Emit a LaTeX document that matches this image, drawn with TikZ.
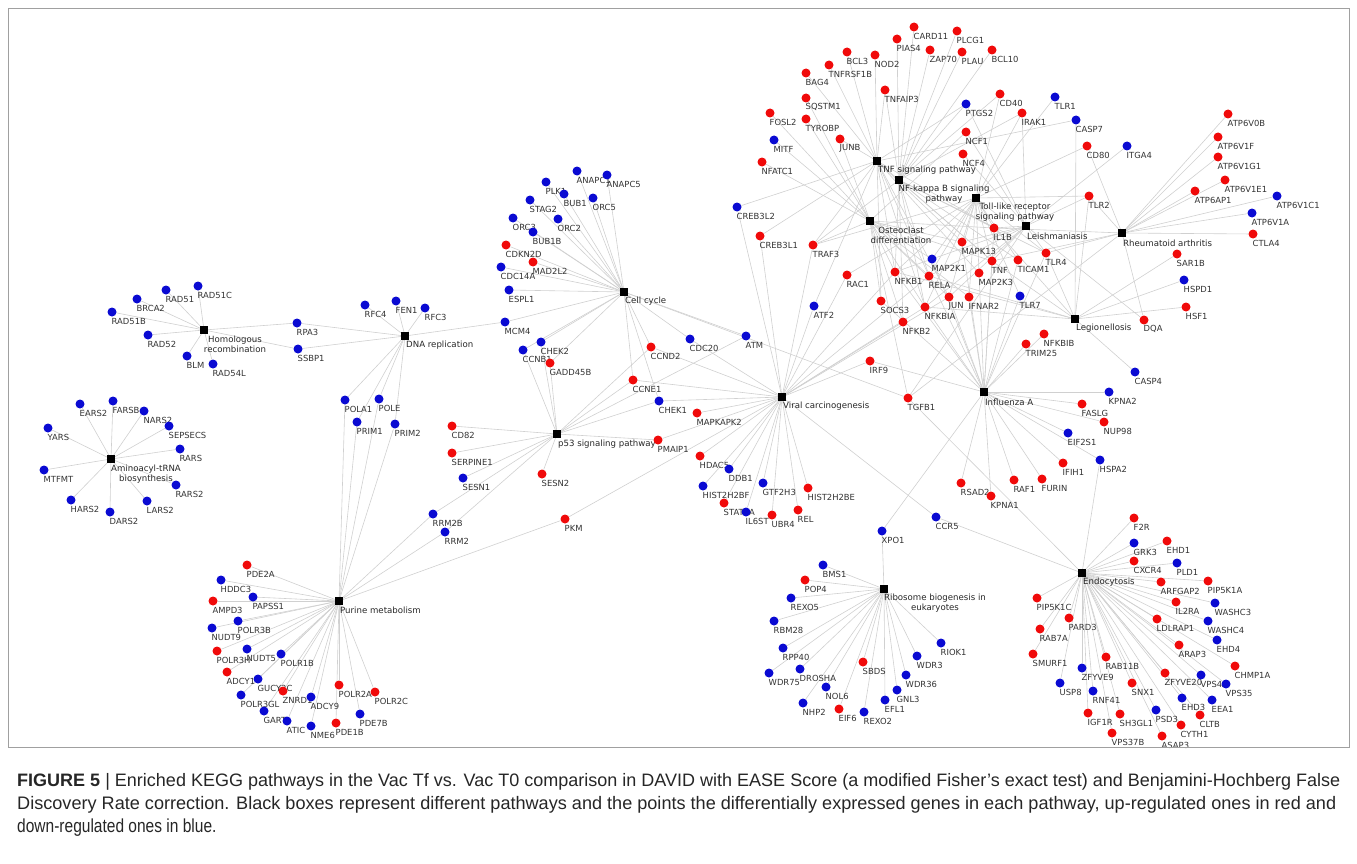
\documentclass[tikz,border=0pt]{standalone}
\usepackage{graphicx}
\usepackage{fontspec}
\setmainfont{Liberation Sans}
\newfontfamily\lab{DejaVu Sans}
\definecolor{upred}{RGB}{240,10,10}
\definecolor{downblue}{RGB}{10,10,210}
\definecolor{edgegray}{RGB}{208,208,208}
\definecolor{framegray}{RGB}{160,160,160}
\pgfdeclarelayer{edges}
\pgfdeclarelayer{labels}
\pgfsetlayers{edges,labels,main}
\tikzset{
  gdot/.style={circle, inner sep=0pt, minimum size=9pt, draw=none},
  rdot/.style={gdot, fill=upred},
  bdot/.style={gdot, fill=downblue},
  pwbox/.style={rectangle, fill=black, inner sep=0pt, minimum size=7.5pt},
  glabel/.style={font=\lab\fontsize{8.4}{10}\selectfont, text=black!80, inner sep=0pt, anchor=west},
  plabel/.style={font=\lab\fontsize{8.6}{10}\selectfont, text=black!85, inner sep=0pt, align=center},
  edge/.style={draw=edgegray, line width=0.6pt},
  capline/.style={anchor=base west, inner sep=0pt, text=black!85}
}
\newcommand\G[4]{%
  \node[#4dot] (#1) at (#2,#3) {};%
  \begin{pgfonlayer}{labels}\node[glabel] at ({#2-0.5},{#3+9}) {#1};\end{pgfonlayer}}
\newcommand\PW[3]{\node[pwbox] (#1) at (#2,#3) {};}
\newcommand\E[2]{\begin{pgfonlayer}{edges}\foreach \g in {#2} {\draw[edge] (#1) -- (\g);}\end{pgfonlayer}}
\begin{document}
\begin{tikzpicture}[x=1pt,y=-1pt]
\useasboundingbox (0,0) rectangle (1357,864);
\draw[framegray, line width=0.8pt] (8,8) rectangle (1349,747);

% ---------- pathways ----------
\PW{HR}{204}{330}
\PW{DNArep}{405}{336}
\PW{AA}{111}{459}
\PW{PUR}{339}{601}
\PW{CC}{624}{292}
\PW{P53}{557}{434}
\PW{VC}{782}{397}
\PW{TNFp}{877}{161}
\PW{NFKBp}{899}{180}
\PW{TLRp}{976}{198}
\PW{OST}{870}{221}
\PW{LEI}{1026}{226}
\PW{RA}{1122}{233}
\PW{LEG}{1075}{319}
\PW{INF}{984}{392}
\PW{ENDO}{1082}{573}
\PW{RIB}{884}{589}

\begin{pgfonlayer}{labels}
\node[plabel] at (235,344) {Homologous\\recombination};
\node[plabel] at (146,474) {Aminoacyl-tRNA\\biosynthesis};
\node[plabel,anchor=west] at (406,345) {DNA replication};
\node[plabel,anchor=west] at (625,301) {Cell cycle};
\node[plabel,anchor=west] at (558,444) {p53 signaling pathway};
\node[plabel,anchor=west] at (340,610) {Purine metabolism};
\node[plabel,anchor=west] at (783,406) {Viral carcinogenesis};
\node[plabel,anchor=west] at (878,170) {TNF signaling pathway};
\node[plabel] at (944,194) {NF-kappa B signaling\\pathway};
\node[plabel] at (1015,212) {Toll-like receptor\\signaling pathway};
\node[plabel] at (901,235) {Osteoclast\\differentiation};
\node[plabel,anchor=west] at (1027,236) {Leishmaniasis};
\node[plabel,anchor=west] at (1123,243) {Rheumatoid arthritis};
\node[plabel,anchor=west] at (1076,328) {Legionellosis};
\node[plabel,anchor=west] at (985,402) {Influenza A};
\node[plabel,anchor=west] at (1083,582) {Endocytosis};
\node[plabel] at (935,603) {Ribosome biogenesis in\\eukaryotes};
\end{pgfonlayer}

% ---------- genes ----------
% HR
\G{RAD51C}{198}{286}{b}
\G{RAD51}{166}{290}{b}
\G{BRCA2}{137}{299}{b}
\G{RAD51B}{112}{312}{b}
\G{RAD52}{148}{335}{b}
\G{BLM}{187}{356}{b}
\G{RAD54L}{213}{364}{b}
\G{RPA3}{297}{323}{b}
\G{SSBP1}{298}{349}{b}
% DNA replication
\G{RFC4}{365}{305}{b}
\G{FEN1}{396}{301}{b}
\G{RFC3}{425}{308}{b}
\G{MCM4}{505}{322}{b}
\G{POLA1}{345}{400}{b}
\G{POLE}{379}{399}{b}
\G{PRIM1}{357}{422}{b}
\G{PRIM2}{395}{424}{b}
% Aminoacyl
\G{EARS2}{80}{404}{b}
\G{FARSB}{113}{401}{b}
\G{NARS2}{144}{411}{b}
\G{SEPSECS}{169}{426}{b}
\G{YARS}{48}{428}{b}
\G{RARS}{180}{449}{b}
\G{MTFMT}{44}{470}{b}
\G{RARS2}{176}{485}{b}
\G{HARS2}{71}{500}{b}
\G{LARS2}{147}{501}{b}
\G{DARS2}{110}{512}{b}
% Purine
\G{PDE2A}{247}{565}{r}
\G{HDDC3}{221}{580}{b}
\G{PAPSS1}{253}{597}{b}
\G{AMPD3}{213}{601}{r}
\G{POLR3B}{238}{621}{b}
\G{NUDT9}{212}{628}{b}
\G{POLR3H}{217}{651}{r}
\G{NUDT5}{247}{649}{b}
\G{POLR1B}{281}{654}{b}
\G{ADCY1}{227}{672}{r}
\G{GUCY2C}{258}{679}{b}
\G{ZNRD1}{283}{691}{r}
\G{POLR3GL}{241}{695}{b}
\G{GART}{264}{711}{b}
\G{ATIC}{287}{721}{b}
\G{NME6}{311}{726}{b}
\G{PDE1B}{336}{723}{r}
\G{POLR2A}{339}{685}{r}
\G{POLR2C}{375}{692}{r}
\G{ADCY9}{311}{697}{b}
\G{PDE7B}{360}{714}{b}
\G{RRM2B}{433}{514}{b}
\G{RRM2}{445}{532}{b}
\G{PKM}{565}{519}{r}
% Cell cycle
\G{ANAPC1}{577}{171}{b}
\G{ANAPC5}{607}{175}{b}
\G{PLK1}{546}{182}{b}
\G{BUB1}{564}{194}{b}
\G{ORC5}{593}{198}{b}
\G{STAG2}{530}{200}{b}
\G{ORC3}{513}{218}{b}
\G{ORC2}{558}{219}{b}
\G{BUB1B}{533}{232}{b}
\G{CDKN2D}{506}{245}{r}
\G{MAD2L2}{533}{262}{r}
\G{CDC14A}{501}{267}{b}
\G{ESPL1}{509}{290}{b}
\G{CHEK2}{541}{342}{b}
\G{CCNB1}{523}{350}{b}
\G{GADD45B}{550}{363}{r}
\G{CCND2}{651}{347}{r}
\G{CCNE1}{633}{380}{r}
\G{CHEK1}{659}{401}{b}
\G{CDC20}{690}{339}{b}
\G{ATM}{746}{336}{b}
% p53
\G{CD82}{452}{426}{r}
\G{SERPINE1}{452}{453}{r}
\G{SESN1}{463}{478}{b}
\G{PMAIP1}{658}{440}{r}
\G{SESN2}{542}{474}{r}
% Viral carcinogenesis
\G{MAPKAPK2}{697}{413}{r}
\G{HDAC5}{700}{456}{r}
\G{DDB1}{729}{469}{b}
\G{HIST2H2BF}{703}{486}{b}
\G{GTF2H3}{763}{483}{b}
\G{HIST2H2BE}{808}{488}{r}
\G{STAT5A}{724}{503}{r}
\G{IL6ST}{746}{512}{b}
\G{UBR4}{772}{515}{r}
\G{REL}{798}{510}{r}
\G{IRF9}{870}{361}{r}
\G{TGFB1}{908}{398}{r}
\G{ATF2}{814}{306}{b}
\G{RAC1}{847}{275}{r}
\G{CREB3L2}{737}{207}{b}
\G{CREB3L1}{760}{236}{r}
\G{TRAF3}{813}{245}{r}
% upper cluster
\G{CARD11}{914}{27}{r}
\G{PLCG1}{957}{31}{r}
\G{PIAS4}{897}{39}{r}
\G{ZAP70}{930}{50}{r}
\G{PLAU}{962}{52}{r}
\G{BCL10}{992}{50}{r}
\G{BCL3}{847}{52}{r}
\G{NOD2}{875}{55}{r}
\G{TNFRSF1B}{829}{65}{r}
\G{BAG4}{806}{73}{r}
\G{TNFAIP3}{885}{90}{r}
\G{SQSTM1}{806}{98}{r}
\G{FOSL2}{770}{113}{r}
\G{TYROBP}{806}{119}{r}
\G{PTGS2}{966}{104}{b}
\G{CD40}{1000}{94}{r}
\G{NCF1}{966}{132}{r}
\G{MITF}{774}{140}{b}
\G{JUNB}{840}{139}{r}
\G{NCF4}{963}{154}{r}
\G{NFATC1}{762}{162}{r}
\G{IL1B}{994}{228}{r}
\G{MAPK13}{962}{242}{r}
\G{MAP2K1}{932}{259}{b}
\G{TNF}{992}{261}{r}
\G{MAP2K3}{979}{273}{r}
\G{NFKB1}{895}{272}{r}
\G{RELA}{929}{276}{r}
\G{JUN}{949}{297}{r}
\G{IFNAR2}{969}{297}{r}
\G{SOCS3}{881}{301}{r}
\G{NFKBIA}{925}{307}{r}
\G{NFKB2}{903}{322}{r}
\G{TLR1}{1055}{97}{b}
\G{IRAK1}{1022}{113}{r}
\G{CASP7}{1076}{120}{b}
\G{CD80}{1087}{146}{r}
\G{ITGA4}{1127}{146}{b}
\G{TLR2}{1089}{196}{r}
\G{TLR4}{1046}{253}{r}
\G{TICAM1}{1018}{260}{r}
\G{TLR7}{1020}{296}{b}
% RA / Legionellosis
\G{ATP6V0B}{1228}{114}{r}
\G{ATP6V1F}{1218}{137}{r}
\G{ATP6V1G1}{1218}{157}{r}
\G{ATP6V1E1}{1225}{180}{r}
\G{ATP6AP1}{1195}{191}{r}
\G{ATP6V1C1}{1277}{196}{b}
\G{ATP6V1A}{1252}{213}{b}
\G{CTLA4}{1253}{234}{r}
\G{SAR1B}{1177}{254}{r}
\G{HSPD1}{1184}{280}{b}
\G{HSF1}{1186}{307}{r}
\G{DQA}{1144}{320}{r}
% Influenza
\G{NFKBIB}{1044}{334}{r}
\G{TRIM25}{1026}{344}{r}
\G{CASP4}{1135}{372}{b}
\G{KPNA2}{1109}{392}{b}
\G{FASLG}{1082}{404}{r}
\G{NUP98}{1104}{422}{r}
\G{EIF2S1}{1068}{433}{b}
\G{HSPA2}{1100}{460}{b}
\G{IFIH1}{1063}{463}{r}
\G{RAF1}{1014}{480}{r}
\G{FURIN}{1042}{479}{r}
\G{RSAD2}{961}{483}{r}
\G{KPNA1}{991}{496}{r}
\G{CCR5}{936}{517}{b}
\G{XPO1}{882}{531}{b}
% Ribosome
\G{BMS1}{823}{565}{b}
\G{POP4}{805}{580}{r}
\G{REXO5}{791}{598}{b}
\G{RBM28}{774}{621}{b}
\G{RPP40}{783}{648}{b}
\G{RIOK1}{941}{643}{b}
\G{WDR3}{917}{656}{b}
\G{SBDS}{863}{662}{r}
\G{WDR75}{769}{673}{b}
\G{DROSHA}{800}{669}{b}
\G{WDR36}{906}{675}{b}
\G{NOL6}{826}{687}{b}
\G{GNL3}{897}{690}{b}
\G{EFL1}{885}{700}{b}
\G{NHP2}{803}{703}{b}
\G{EIF6}{839}{709}{r}
\G{REXO2}{864}{712}{b}
% Endocytosis
\G{F2R}{1134}{518}{r}
\G{GRK3}{1134}{543}{b}
\G{EHD1}{1167}{541}{r}
\G{CXCR4}{1134}{561}{r}
\G{PLD1}{1177}{563}{b}
\G{ARFGAP2}{1161}{582}{r}
\G{PIP5K1A}{1208}{581}{r}
\G{PIP5K1C}{1037}{598}{r}
\G{IL2RA}{1176}{602}{r}
\G{WASHC3}{1215}{603}{b}
\G{PARD3}{1069}{618}{r}
\G{LDLRAP1}{1157}{619}{r}
\G{WASHC4}{1208}{621}{b}
\G{RAB7A}{1040}{629}{r}
\G{EHD4}{1217}{640}{b}
\G{ARAP3}{1179}{645}{r}
\G{SMURF1}{1033}{654}{r}
\G{RAB11B}{1106}{657}{r}
\G{CHMP1A}{1235}{666}{r}
\G{ZFYVE9}{1082}{668}{b}
\G{ZFYVE20}{1165}{673}{r}
\G{VPS4A}{1201}{675}{b}
\G{VPS35}{1226}{684}{b}
\G{USP8}{1060}{683}{b}
\G{SNX1}{1132}{683}{r}
\G{RNF41}{1093}{691}{b}
\G{EHD3}{1182}{698}{b}
\G{EEA1}{1212}{700}{b}
\G{IGF1R}{1088}{713}{r}
\G{SH3GL1}{1120}{714}{r}
\G{PSD3}{1156}{710}{b}
\G{CLTB}{1200}{715}{r}
\G{CYTH1}{1181}{725}{r}
\G{VPS37B}{1112}{733}{r}
\G{ASAP3}{1162}{736}{r}

% ---------- edges ----------
\E{HR}{RAD51C,RAD51,BRCA2,RAD51B,RAD52,BLM,RAD54L,RPA3,SSBP1}
\E{DNArep}{RPA3,SSBP1,RFC4,FEN1,RFC3,MCM4,POLA1,POLE,PRIM1,PRIM2}
\E{AA}{EARS2,FARSB,NARS2,SEPSECS,YARS,RARS,MTFMT,RARS2,HARS2,LARS2,DARS2}
\E{PUR}{PDE2A,HDDC3,PAPSS1,AMPD3,POLR3B,NUDT9,POLR3H,NUDT5,POLR1B,ADCY1,GUCY2C,ZNRD1,POLR3GL,GART,ATIC,NME6,PDE1B,POLR2A,POLR2C,ADCY9,PDE7B,POLA1,POLE,PRIM1,PRIM2,RRM2B,RRM2,PKM}
\E{CC}{ANAPC1,ANAPC5,PLK1,BUB1,ORC5,STAG2,ORC3,ORC2,BUB1B,CDKN2D,MAD2L2,CDC14A,ESPL1,MCM4,CHEK2,CCNB1,GADD45B,CCND2,CCNE1,CHEK1,CDC20,ATM,TGFB1}
\E{P53}{CHEK2,CCNB1,GADD45B,CCND2,CCNE1,CHEK1,ATM,PMAIP1,CD82,SERPINE1,SESN1,SESN2,RRM2B,RRM2}
\E{VC}{CCND2,CCNE1,CHEK1,CDC20,MAPKAPK2,HDAC5,DDB1,HIST2H2BF,GTF2H3,HIST2H2BE,STAT5A,IL6ST,UBR4,REL,IRF9,ATF2,RAC1,CREB3L2,CREB3L1,TRAF3,NFKB1,RELA,NFKB2,NFKBIA,JUN,PKM,PMAIP1,CCR5}
\E{TNFp}{BAG4,TNFRSF1B,BCL3,NOD2,TNFAIP3,PTGS2,JUNB,SOCS3,CREB3L1,CREB3L2,MAPK13,MAP2K3,IL1B,TNF,NFKB1,RELA,NFKBIA,JUN,CASP7,TRAF3,ATF2}
\E{NFKBp}{CARD11,PLCG1,PIAS4,ZAP70,PLAU,BCL10,TNFAIP3,CD40,PTGS2,IL1B,TNF,NFKB1,RELA,NFKB2,NFKBIA,TICAM1,TLR4,IRAK1,TRAF3}
\E{OST}{SQSTM1,FOSL2,TYROBP,MITF,JUNB,NFATC1,NCF1,TNF,IL1B,NFKB1,RELA,NFKB2,NFKBIA,JUN,MAP2K1,MAPK13,TGFB1,IFNAR2,SOCS3,TRAF3}
\E{TLRp}{TLR1,TLR2,TLR4,TLR7,CD40,CD80,IRAK1,TICAM1,IL1B,TNF,NFKB1,RELA,NFKBIA,JUN,MAP2K1,MAP2K3,MAPK13,IFNAR2,RAC1,TRAF3}
\E{LEI}{TLR2,TLR4,IRAK1,NCF1,NCF4,PTGS2,IL1B,TNF,NFKB1,RELA,NFKBIA,JUN,MAPK13,ITGA4,TGFB1,DQA}
\E{RA}{ATP6V0B,ATP6V1F,ATP6V1G1,ATP6V1E1,ATP6AP1,ATP6V1C1,ATP6V1A,CTLA4,CD80,TLR2,TLR4,IL1B,TNF,TGFB1,DQA}
\E{LEG}{SAR1B,HSPD1,HSF1,TLR2,TLR4,CASP7,CASP4,NFKBIA,NFKB1,RELA,TNF,IL1B}
\E{INF}{TLR7,TLR4,TRIM25,NFKBIB,KPNA2,KPNA1,FASLG,NUP98,EIF2S1,HSPA2,IFIH1,RAF1,FURIN,RSAD2,XPO1,IRF9,IFNAR2,JUN,NFKB1,RELA,NFKBIA,MAP2K1,MAP2K3,MAPK13,TNF,IL1B,TICAM1,SOCS3}
\E{ENDO}{F2R,GRK3,EHD1,CXCR4,PLD1,ARFGAP2,PIP5K1A,PIP5K1C,IL2RA,WASHC3,PARD3,LDLRAP1,WASHC4,RAB7A,EHD4,ARAP3,SMURF1,RAB11B,CHMP1A,ZFYVE9,ZFYVE20,VPS4A,VPS35,USP8,SNX1,RNF41,EHD3,EEA1,IGF1R,SH3GL1,PSD3,CLTB,CYTH1,VPS37B,ASAP3,TGFB1,CCR5,HSPA2}
\E{RIB}{BMS1,POP4,REXO5,RBM28,RPP40,RIOK1,WDR3,SBDS,WDR75,DROSHA,WDR36,NOL6,GNL3,EFL1,NHP2,EIF6,REXO2,XPO1}

% ---------- caption ----------
\node[capline] (cap1) at (17,786) {\resizebox{1323pt}{!}{\fontsize{16}{20}\selectfont\textbf{FIGURE 5} | Enriched KEGG pathways in the Vac Tf vs. Vac T0 comparison in DAVID with EASE Score (a modified Fisher's exact test) and Benjamini-Hochberg False}};
\node[capline] (cap2) at (17,809) {\resizebox{1319pt}{!}{\fontsize{16}{20}\selectfont Discovery Rate correction. Black boxes represent different pathways and the points the differentially expressed genes in each pathway, up-regulated ones in red and}};
\node[capline] (cap3) at (17,832) {\scalebox{0.97}[1.18]{\fontsize{16}{20}\selectfont down-regulated ones in blue.}};
\end{tikzpicture}
\end{document}
